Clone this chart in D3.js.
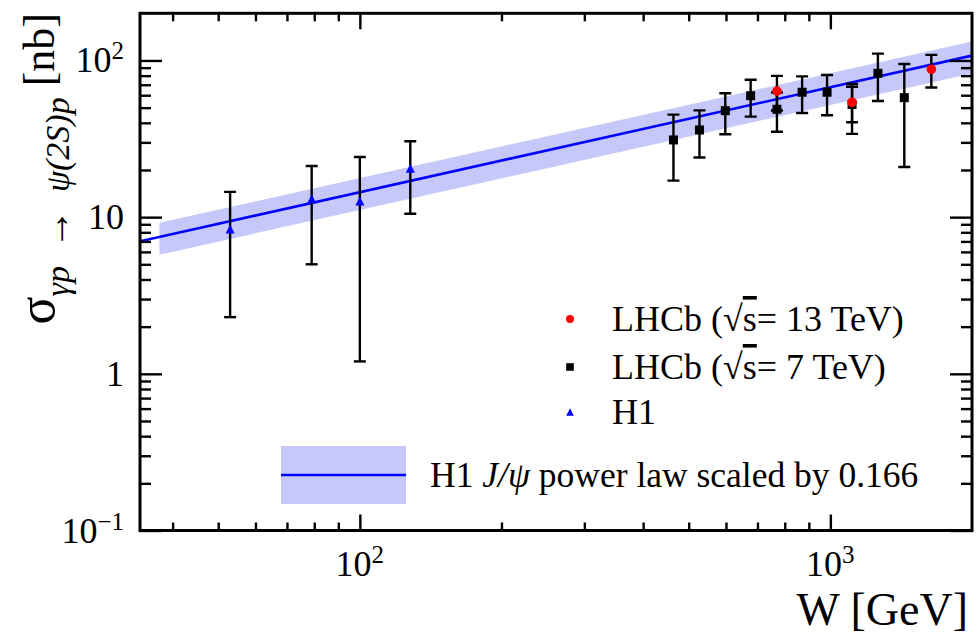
<!DOCTYPE html>
<html>
<head>
<meta charset="utf-8">
<script src="https://cdn.jsdelivr.net/npm/d3@7"></script>
<style>
  html, body { margin: 0; padding: 0; background: #fff; }
  svg { display: block; }
  text { font-family: "Liberation Serif", "DejaVu Serif", serif; fill: #000; }
</style>
</head>
<body>
<svg id="chart" width="977" height="636"></svg>
<script>
// ---------------- data ----------------
const h1W      = [53, 79, 100, 128];
const h1Sigma  = [8.4, 13.1, 12.7, 20.5];
const h1Err    = [6.1, 8.1, 11.5, 10.0];

const lhcb7W     = [464, 527, 598, 677, 770, 871, 984, 1112, 1262, 1436];
const lhcb7Sigma = [31.1, 36.0, 47.8, 59.6, 48.8, 62.7, 62.7, 52.4, 82.8, 57.9];
const lhcb7Err   = [14.0, 12.0, 14.0, 15.8, 13.7, 16.5, 18.0, 18.4, 27.7, 37.0];

const lhcb13W     = [770, 1112, 1639];
const lhcb13Sigma = [63.8, 54.1, 87.9];
const lhcb13Err   = [15.9, 13.8, 20.7];

// H1 J/psi power law: N * (W/W0)^delta, scaled
const powerLawN = 81, powerLawW0 = 90, powerLawDelta = 0.67, powerLawScale = 0.166;
const bandRel = 0.23;
const lineRange = [34.1, 2000];
const bandRange = [37.5, 2000];

const xMajorTicks = [100, 1000];
const xMinorTicks = [40, 50, 60, 70, 80, 90, 200, 300, 400, 500, 600, 700, 800, 900];
const yMajorTicks = [0.1, 1, 10, 100];
const yMinorTicks = [0.2,0.3,0.4,0.5,0.6,0.7,0.8,0.9, 2,3,4,5,6,7,8,9, 20,30,40,50,60,70,80,90];
const yTickLabels = [["10","−1"], ["1",""], ["10",""], ["10","2"]];
const xTickLabels = [["10","2"], ["10","3"]];

const legendEntries = [
  {label: "LHCb (√s= 13 TeV)", kind: "circle", color: "#ff0000"},
  {label: "LHCb (√s= 7 TeV)",  kind: "square", color: "#000000"},
  {label: "H1",                kind: "triangle", color: "#0000ff"}
];

// ---------------- setup ----------------
const svg = d3.select("#chart");
const L = 140, R = 972, T = 13.3, B = 530.5;
const x = d3.scaleLog().domain([34.1, 2000]).range([L, R]);
const y = d3.scaleLog().domain([0.1, 200]).range([B, T]);

const law = w => powerLawScale * powerLawN * Math.pow(w / powerLawW0, powerLawDelta);

svg.append("defs").append("clipPath").attr("id", "clip")
  .append("rect").attr("x", L).attr("y", T).attr("width", R - L).attr("height", B - T);

const plot = svg.append("g").attr("clip-path", "url(#clip)");

// band
const area = d3.area()
  .x(w => x(w))
  .y0(w => y(law(w) * (1 - bandRel)))
  .y1(w => y(law(w) * (1 + bandRel)));
plot.append("path").datum(bandRange).attr("d", area).attr("fill", "#c6c8fa");

// line
const line = d3.line().x(w => x(w)).y(w => y(law(w)));
plot.append("path").datum(lineRange).attr("d", line)
  .attr("fill", "none").attr("stroke", "#0000ff").attr("stroke-width", 2.6);

// error bars
function errorBars(W, S, E) {
  const g = plot.append("g").attr("stroke", "#000").attr("stroke-width", 2.4).attr("fill", "none");
  W.forEach((w, i) => {
    const cx = x(w), top = y(S[i] + E[i]), bot = y(S[i] - E[i]);
    g.append("line").attr("x1", cx).attr("x2", cx).attr("y1", top).attr("y2", bot);
    g.append("line").attr("x1", cx - 6).attr("x2", cx + 6).attr("y1", top).attr("y2", top);
    g.append("line").attr("x1", cx - 6).attr("x2", cx + 6).attr("y1", bot).attr("y2", bot);
  });
}
errorBars(h1W, h1Sigma, h1Err);
errorBars(lhcb7W, lhcb7Sigma, lhcb7Err);
errorBars(lhcb13W, lhcb13Sigma, lhcb13Err);

function marker(g, kind, cx, cy, color, s) {
  if (kind === "circle") {
    g.append("circle").attr("cx", cx).attr("cy", cy).attr("r", s).attr("fill", color);
  } else if (kind === "square") {
    g.append("rect").attr("x", cx - s).attr("y", cy - s).attr("width", 2 * s).attr("height", 2 * s).attr("fill", color);
  } else {
    g.append("path").attr("d", `M${cx - s},${cy + s}L${cx + s},${cy + s}L${cx},${cy - s}Z`).attr("fill", color);
  }
}
const mk = plot.append("g");
lhcb7W.forEach((w, i) => marker(mk, "square", x(w), y(lhcb7Sigma[i]), "#000", 4.5));
lhcb13W.forEach((w, i) => marker(mk, "circle", x(w), y(lhcb13Sigma[i]), "#ff0000", 4.8));
h1W.forEach((w, i) => marker(mk, "triangle", x(w), y(h1Sigma[i]), "#0000ff", 4.5));

// ---------------- axes ----------------
function tickAxis(axisGen, transform, values, size) {
  const g = svg.append("g").attr("transform", transform)
    .call(axisGen.tickValues(values).tickSize(size).tickFormat(""));
  g.select(".domain").remove();
  g.selectAll(".tick line").attr("stroke", "#000").attr("stroke-width", 2.4);
  return g;
}
tickAxis(d3.axisBottom(x), `translate(0,${B})`, xMajorTicks, -16);
tickAxis(d3.axisBottom(x), `translate(0,${B})`, xMinorTicks, -8);
tickAxis(d3.axisTop(x), `translate(0,${T})`, xMajorTicks, -16);
tickAxis(d3.axisTop(x), `translate(0,${T})`, xMinorTicks, -8);
tickAxis(d3.axisLeft(y), `translate(${L},0)`, yMajorTicks, -22);
tickAxis(d3.axisLeft(y), `translate(${L},0)`, yMinorTicks, -11);
tickAxis(d3.axisRight(y), `translate(${R},0)`, yMajorTicks, -22);
tickAxis(d3.axisRight(y), `translate(${R},0)`, yMinorTicks, -11);

svg.append("rect").attr("x", L).attr("y", T).attr("width", R - L).attr("height", B - T)
  .attr("fill", "none").attr("stroke", "#000").attr("stroke-width", 3);

// y tick labels
yMajorTicks.forEach((v, i) => {
  const [base, sup] = yTickLabels[i];
  const t = svg.append("text").attr("x", 124).attr("y", y(v) + 12)
    .attr("text-anchor", "end").attr("font-size", 36);
  t.append("tspan").text(base);
  if (sup) t.append("tspan").attr("font-size", 25).attr("dy", -13).text(sup);
});
// x tick labels
xMajorTicks.forEach((v, i) => {
  const [base, sup] = xTickLabels[i];
  const t = svg.append("text").attr("x", x(v)).attr("y", 576)
    .attr("text-anchor", "middle").attr("font-size", 36);
  t.append("tspan").text(base);
  t.append("tspan").attr("font-size", 25).attr("dy", -13).text(sup);
});

// axis titles
svg.append("text").attr("x", 968).attr("y", 625).attr("text-anchor", "end")
  .attr("font-size", 46).text("W [GeV]");

const yt = svg.append("text").attr("transform", "translate(54,13) rotate(-90)")
  .attr("text-anchor", "end").style("white-space", "pre");
yt.append("tspan").attr("font-size", 52).text("σ");
yt.append("tspan").attr("font-size", 34).attr("font-style", "italic").attr("dy", 15).text("γp");
yt.append("tspan").attr("font-size", 34).text("  ");
yt.append("tspan").attr("font-size", 40).text("→");
yt.append("tspan").attr("font-size", 34).text("  ");
yt.append("tspan").attr("font-size", 34).attr("font-style", "italic").text("ψ(2S)p");
yt.append("tspan").attr("font-size", 44).attr("dy", -15).text(" [nb]");

// ---------------- legend ----------------
const lg = svg.append("g");
const rowY = [319, 367, 412];
legendEntries.forEach((e, i) => {
  marker(lg, e.kind, 570, rowY[i], e.color, e.kind === "circle" ? 4 : 3.8);
  const t = lg.append("text").attr("x", 612).attr("y", rowY[i] + 12).attr("font-size", 36);
  if (e.label.includes("√s")) {
    const parts = e.label.split("√s");
    t.append("tspan").text(parts[0] + "√");
    t.append("tspan").style("text-decoration", "overline").text("s");
    t.append("tspan").text(parts[1]);
  } else {
    t.text(e.label);
  }
});
lg.append("rect").attr("x", 281).attr("y", 446).attr("width", 125).attr("height", 58).attr("fill", "#c6c8fa");
lg.append("line").attr("x1", 281).attr("x2", 406).attr("y1", 475).attr("y2", 475)
  .attr("stroke", "#0000ff").attr("stroke-width", 2.6);
const bt = lg.append("text").attr("x", 430).attr("y", 487).attr("font-size", 35.5);
bt.append("tspan").text("H1 ");
bt.append("tspan").attr("font-style", "italic").text("J/ψ");
bt.append("tspan").text(" power law scaled by 0.166");
</script>
</body>
</html>
